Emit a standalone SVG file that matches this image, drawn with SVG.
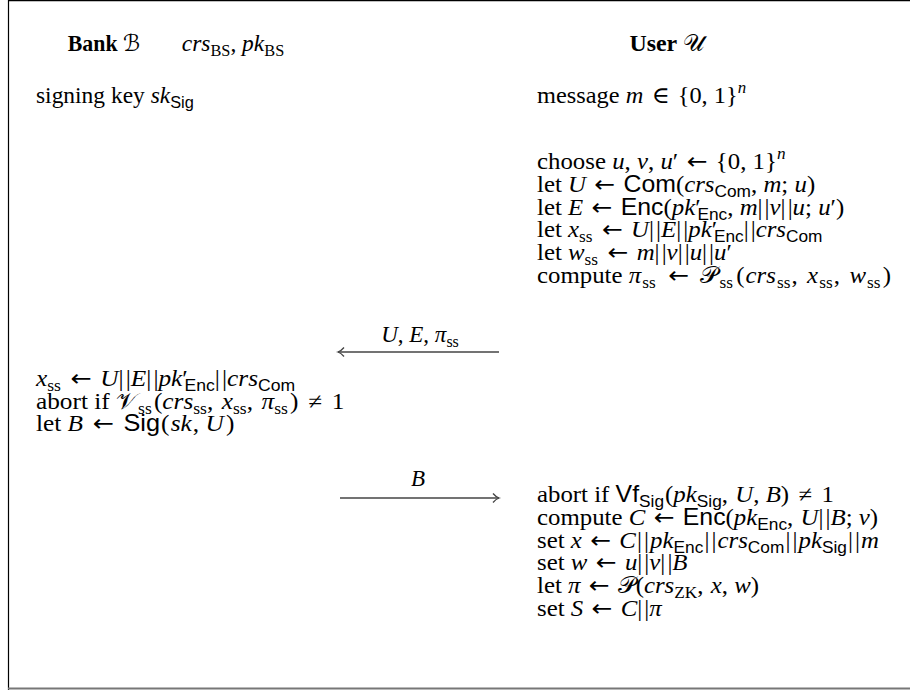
<svg xmlns="http://www.w3.org/2000/svg" width="910" height="690" viewBox="0 0 910 690">
<defs>
<style>
text{font-family:'Liberation Serif','DejaVu Serif',serif;font-size:23px;fill:#000}
.i{font-style:italic}
.b{font-weight:bold}
.sf{font-family:'Liberation Sans','DejaVu Sans',sans-serif;font-style:normal}
.s{font-size:16px}
.cal{font-family:'DejaVu Serif','DejaVu Sans',serif;font-style:normal}
.ar{font-family:'DejaVu Sans',sans-serif;font-style:normal;font-size:23px}
.frame{stroke:#000;stroke-width:1.2;fill:none}
.base{stroke:#777;stroke-width:2;fill:none}
.conn line,.conn path{stroke:#444;stroke-width:1.3;fill:none}
</style>
</defs>
<rect width="910" height="690" fill="#fff"/>
<!-- frame -->
<path class="frame" d="M8.5,690 V0.6 H910"/>
<line class="base" x1="8" y1="688.5" x2="910" y2="688.5"/>

<!-- column headers -->
<g id="bank-header" transform="translate(104,0) scale(0.95,1)"><text x="0" y="51" text-anchor="middle"><tspan class="b">Bank</tspan> <tspan class="cal">ℬ</tspan></text></g>
<g id="params" transform="translate(233,0) scale(1.02,1)"><text x="0" y="51" text-anchor="middle"><tspan class="i">crs</tspan><tspan class="s" dy="5">BS</tspan><tspan dy="-5">, </tspan><tspan class="i">pk</tspan><tspan class="s" dy="5">BS</tspan></text></g>
<g id="user-header" transform="translate(667,0) scale(1.04,1)"><text x="0" y="51" text-anchor="middle"><tspan class="b">User</tspan> <tspan class="cal">𝒰</tspan></text></g>

<!-- initial knowledge -->
<g id="bank-init" transform="translate(36,0) scale(1.02,1)"><text x="0" y="103">signing key <tspan class="i">sk</tspan><tspan class="s sf" dy="5">Sig</tspan></text></g>
<g id="user-init" transform="translate(537,0) scale(1.06,1)"><text x="0" y="103">message <tspan class="i">m</tspan><tspan dx="2"> ∈ </tspan><tspan dx="2">{0, 1}</tspan><tspan class="s i" dy="-10">n</tspan></text></g>

<!-- user: commit, encrypt, prove -->
<g id="user-step1" transform="translate(537,0) scale(1.08,1)">
<text x="0" y="169">choose <tspan class="i">u</tspan>, <tspan class="i">v</tspan>, <tspan class="i">u</tspan>′ <tspan class="ar" dx="2">←</tspan><tspan dx="2"> {0, 1}</tspan><tspan class="s i" dy="-10">n</tspan></text>
<text x="0" y="192">let <tspan class="i">U</tspan> <tspan class="ar" dx="2">←</tspan><tspan dx="2"> </tspan><tspan class="sf">Com</tspan>(<tspan class="i">crs</tspan><tspan class="s sf" dy="5">Com</tspan><tspan dy="-5">, </tspan><tspan class="i">m</tspan>; <tspan class="i">u</tspan>)</text>
<text x="0" y="215">let <tspan class="i">E</tspan> <tspan class="ar" dx="2">←</tspan><tspan dx="2"> </tspan><tspan class="sf">Enc</tspan>(<tspan class="i">pk</tspan>′<tspan class="s sf" dx="-3" dy="5">Enc</tspan><tspan dy="-5">, </tspan><tspan class="i">m</tspan>|&#x200A;|<tspan class="i">v</tspan>|&#x200A;|<tspan class="i">u</tspan>; <tspan class="i">u</tspan>′)</text>
<text x="0" y="237">let <tspan class="i">x</tspan><tspan class="s" dy="5">ss</tspan><tspan dy="-5" dx="1"> </tspan><tspan class="ar" dx="2">←</tspan><tspan dx="2"> </tspan><tspan class="i">U</tspan>|&#x200A;|<tspan class="i">E</tspan>|&#x200A;|<tspan class="i">pk</tspan>′<tspan class="s sf" dx="-3" dy="5">Enc</tspan><tspan dy="-5">|&#x200A;|</tspan><tspan class="i">crs</tspan><tspan class="s sf" dy="5">Com</tspan></text>
<text x="0" y="260">let <tspan class="i">w</tspan><tspan class="s" dy="5">ss</tspan><tspan dy="-5" dx="1"> </tspan><tspan class="ar" dx="2">←</tspan><tspan dx="2"> </tspan><tspan class="i">m</tspan>|&#x200A;|<tspan class="i">v</tspan>|&#x200A;|<tspan class="i">u</tspan>|&#x200A;|<tspan class="i">u</tspan>′</text>
<text x="0" y="283">compute <tspan class="i">π</tspan><tspan class="s" dy="5" dx="1">ss</tspan><tspan dy="-5" dx="3"> </tspan><tspan class="ar" dx="3">←</tspan><tspan dx="4"> </tspan><tspan class="cal">𝒫</tspan><tspan class="s" dy="5" dx="2">ss</tspan><tspan dy="-5" dx="3">(</tspan><tspan class="i" dx="1">crs</tspan><tspan class="s" dy="5" dx="1">ss</tspan><tspan dy="-5" dx="1">,</tspan><tspan dx="3"> </tspan><tspan class="i">x</tspan><tspan class="s" dy="5" dx="1">ss</tspan><tspan dy="-5" dx="1">,</tspan><tspan dx="3"> </tspan><tspan class="i">w</tspan><tspan class="s" dy="5" dx="1">ss</tspan><tspan dy="-5" dx="2">)</tspan></text>
</g>

<!-- bank: verify and sign -->
<g id="bank-step" transform="translate(36,0) scale(1.1,1)">
<text x="0" y="386"><tspan class="i">x</tspan><tspan class="s" dy="5">ss</tspan><tspan dy="-5" dx="1"> </tspan><tspan class="ar" dx="2">←</tspan><tspan dx="2"> </tspan><tspan class="i">U</tspan>|&#x200A;|<tspan class="i">E</tspan>|&#x200A;|<tspan class="i">pk</tspan>′<tspan class="s sf" dx="-3" dy="5">Enc</tspan><tspan dy="-5">|&#x200A;|</tspan><tspan class="i">crs</tspan><tspan class="s sf" dy="5">Com</tspan></text>
<text x="0" y="409">abort if <tspan class="cal">𝒱</tspan><tspan class="s" dy="5" dx="1">ss</tspan><tspan dy="-5" dx="2">(</tspan><tspan class="i">crs</tspan><tspan class="s" dy="5">ss</tspan><tspan dy="-5">,</tspan><tspan dx="2"> </tspan><tspan class="i">x</tspan><tspan class="s" dy="5">ss</tspan><tspan dy="-5">,</tspan><tspan dx="2"> </tspan><tspan class="i">π</tspan><tspan class="s" dy="5">ss</tspan><tspan dy="-5" dx="2">)</tspan><tspan dx="3"> ≠ </tspan><tspan dx="3">1</tspan></text>
<text x="0" y="431">let <tspan class="i">B</tspan> <tspan class="ar" dx="3">←</tspan><tspan dx="3"> </tspan><tspan class="sf">Sig</tspan><tspan dx="1">(</tspan><tspan class="i" dx="1">sk</tspan><tspan dx="1">, </tspan><tspan class="i">U</tspan><tspan dx="2">)</tspan></text>
</g>

<!-- user: verify signature, encrypt, prove -->
<g id="user-step2" transform="translate(537,0) scale(1.08,1)">
<text x="0" y="502">abort if <tspan class="sf">Vf</tspan><tspan class="s sf" dy="5">Sig</tspan><tspan dy="-5" dx="1">(</tspan><tspan class="i">pk</tspan><tspan class="s sf" dy="5">Sig</tspan><tspan dy="-5">,</tspan><tspan dx="1"> </tspan><tspan class="i">U</tspan>, <tspan class="i">B</tspan>)<tspan dx="3"> ≠ </tspan><tspan dx="3">1</tspan></text>
<text x="0" y="525">compute <tspan class="i">C</tspan> <tspan class="ar" dx="2">←</tspan><tspan dx="2"> </tspan><tspan class="sf">Enc</tspan>(<tspan class="i">pk</tspan><tspan class="s sf" dy="5">Enc</tspan><tspan dy="-5">,</tspan><tspan dx="1"> </tspan><tspan class="i">U</tspan>|&#x200A;|<tspan class="i">B</tspan>; <tspan class="i">v</tspan>)</text>
<text x="0" y="548">set <tspan class="i">x</tspan> <tspan class="ar" dx="2">←</tspan><tspan dx="2"> </tspan><tspan class="i">C</tspan><tspan dx="1">|&#x200A;|</tspan><tspan class="i" dx="1">pk</tspan><tspan class="s sf" dy="5">Enc</tspan><tspan dy="-5" dx="1">|&#x200A;|</tspan><tspan class="i" dx="1">crs</tspan><tspan class="s sf" dy="5">Com</tspan><tspan dy="-5" dx="1">|&#x200A;|</tspan><tspan class="i" dx="1">pk</tspan><tspan class="s sf" dy="5">Sig</tspan><tspan dy="-5" dx="1">|&#x200A;|</tspan><tspan class="i" dx="1">m</tspan></text>
<text x="0" y="570">set <tspan class="i">w</tspan> <tspan class="ar" dx="2">←</tspan><tspan dx="2"> </tspan><tspan class="i">u</tspan>|&#x200A;|<tspan class="i">v</tspan>|&#x200A;|<tspan class="i">B</tspan></text>
<text x="0" y="593">let <tspan class="i">π</tspan> <tspan class="ar" dx="2">←</tspan><tspan dx="2"> </tspan><tspan class="cal">𝒫</tspan>(<tspan class="i">crs</tspan><tspan class="s" dy="5">ZK</tspan><tspan dy="-5">,</tspan><tspan dx="1"> </tspan><tspan class="i">x</tspan>, <tspan class="i">w</tspan>)</text>
<text x="0" y="616">set <tspan class="i">S</tspan> <tspan class="ar" dx="2">←</tspan><tspan dx="2"> </tspan><tspan class="i">C</tspan>|&#x200A;|<tspan class="i">π</tspan></text>
</g>

<!-- messages between the parties -->
<g id="connectors" class="conn">
<g id="msg-user-to-bank">
<line x1="338" y1="352" x2="499" y2="352"/>
<path d="M344,347.5 Q341,351 338,352 Q341,353 344,356.5"/>
<text x="420" y="342" text-anchor="middle"><tspan class="i">U</tspan>, <tspan class="i">E</tspan>, <tspan class="i">π</tspan><tspan class="s" dy="5">ss</tspan></text>
</g>
<g id="msg-bank-to-user">
<line x1="340" y1="498" x2="499" y2="498"/>
<path d="M493,493.5 Q496,497 499,498 Q496,499 493,502.5"/>
<text x="418" y="486" text-anchor="middle" class="i">B</text>
</g>
</g>
</svg>
